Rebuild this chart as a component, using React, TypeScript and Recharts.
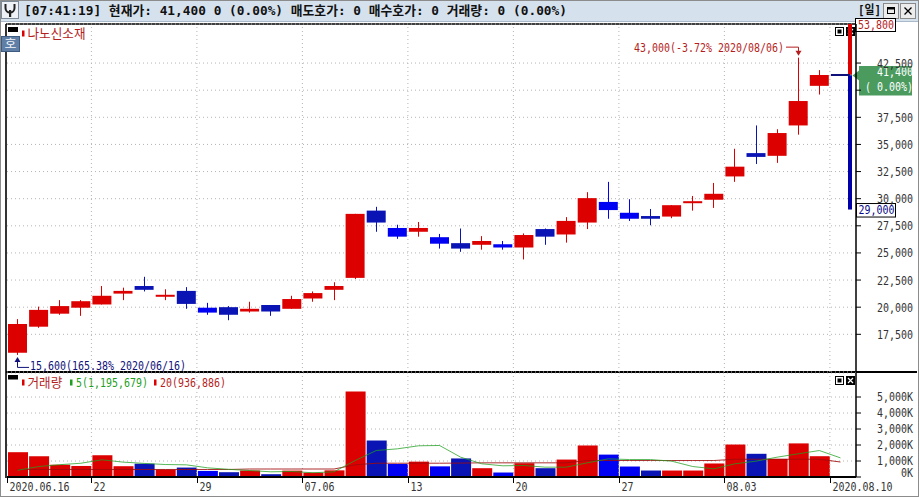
import React from 'react';
import { ComposedChart, Bar, Line, XAxis, YAxis, CartesianGrid, ReferenceLine, ReferenceArea, Cell } from 'recharts';

// ---------------- data ----------------
const stockName = '나노신소재';
const quoteTime = '07:41:19';
const currentPrice = 41400;
const upperLimit = 53800;
const lowerLimit = 29000;

const dates = [
  '2020-06-16', '2020-06-17', '2020-06-18', '2020-06-19', '2020-06-22', '2020-06-23', '2020-06-24', '2020-06-25',
  '2020-06-26', '2020-06-29', '2020-06-30', '2020-07-01', '2020-07-02', '2020-07-03', '2020-07-06', '2020-07-07',
  '2020-07-08', '2020-07-09', '2020-07-10', '2020-07-13', '2020-07-14', '2020-07-15', '2020-07-16', '2020-07-17',
  '2020-07-20', '2020-07-21', '2020-07-22', '2020-07-23', '2020-07-24', '2020-07-27', '2020-07-28', '2020-07-29',
  '2020-07-30', '2020-07-31', '2020-08-03', '2020-08-04', '2020-08-05', '2020-08-06', '2020-08-07', '2020-08-10',
];
const opens = [
  15800, 18200, 19400, 19950, 20250, 21250, 21950, 21000, 21500, 19950, 20000, 19600, 20200, 19850, 20800, 21600,
  22700, 28900, 27300, 26950, 26450, 25900, 25750, 25800, 25500, 27200, 26700, 27800, 29700, 28700, 28400, 28350,
  29650, 29900, 32050, 34200, 33950, 36750, 40400, 41400,
];
const highs = [
  18900, 20050, 20650, 20650, 21950, 21800, 22800, 21650, 21850, 20400, 20100, 20500, 20200, 21050, 21450, 22300,
  28600, 29250, 27600, 27850, 26750, 27250, 26550, 26100, 26800, 27250, 28300, 30600, 31550, 29950, 29050, 29400,
  30250, 31450, 34600, 36750, 36400, 43000, 41850, 41400,
];
const lows = [
  15600, 18100, 19300, 19200, 20250, 20650, 21450, 20650, 19850, 19300, 18800, 19500, 19200, 19850, 20500, 20650,
  22600, 26950, 26300, 26500, 25400, 25100, 25300, 25300, 24400, 25750, 25950, 27200, 28150, 27950, 27550, 28200,
  28900, 29150, 31550, 33200, 33300, 35900, 39600, 41400,
];
const closes = [
  18450, 19750, 20100, 20550, 21050, 21500, 21600, 21100, 20300, 19500, 19300, 19850, 19600, 20750, 21300, 21950,
  28600, 27800, 26500, 27300, 25850, 25400, 26100, 25500, 26650, 26500, 27950, 30050, 28950, 28150, 28150, 29400,
  29700, 30450, 32950, 33850, 36050, 39000, 41400, 41400,
];
const volumes = [
  1550000, 1300000, 770000, 690000, 1360000, 675000, 830000, 460000, 590000, 380000, 300000, 405000, 175000, 400000,
  270000, 415000, 5340000, 2280000, 815000, 960000, 665000, 1160000, 550000, 280000, 860000, 550000, 1090000,
  1970000, 1400000, 655000, 405000, 405000, 405000, 845000, 2030000, 1450000, 1130000, 2100000, 1300000, 0,
];
const ma5 = [
  420000, 655000, 770000, 860000, 1075000, 930000, 850000, 780000, 760000, 575000, 480000, 405000, 325000, 345000,
  265000, 325000, 1030000, 1655000, 1760000, 1950000, 1970000, 1240000, 825000, 700000, 720000, 615000, 615000,
  885000, 1135000, 1090000, 1090000, 990000, 655000, 510000, 825000, 990000, 1240000, 1450000, 1655000, 1195679,
];
const ma20 = [
  470000, 470000, 470000, 470000, 470000, 470000, 470000, 470000, 470000, 470000, 470000, 500000, 500000, 500000,
  500000, 500000, 760000, 862000, 862000, 862000, 862000, 870000, 885000, 885000, 885000, 885000, 885000, 1030000,
  1030000, 1030000, 1030000, 1030000, 1030000, 1030000, 1110000, 1110000, 1110000, 1110000, 1110000, 936886,
];
const priceTicks = [17500, 20000, 22500, 25000, 27500, 30000, 32500, 35000, 37500, 40000, 42500];
const volumeTicks = [0, 1000000, 2000000, 3000000, 4000000, 5000000];
const xTickDates = ['2020-06-16', '2020-06-22', '2020-06-29', '2020-07-06', '2020-07-13', '2020-07-20', '2020-07-27', '2020-08-03', '2020-08-10'];
const xTickLabels = ['2020.06.16', '22', '29', '07.06', '13', '20', '27', '08.03', '2020.08.10'];

// ---------------- layout / style ----------------
const W = 919;
const H = 497;
const PLOT_LEFT = 7;
const AXIS_W = 63;
const PAD_R = 5;
const PRICE_TOP = 24;
const PRICE_BOTTOM = 372;
const VOL_H = H - PRICE_BOTTOM - 1;
const BAND = (W - AXIS_W - PLOT_LEFT - PAD_R) / dates.length;
const PRICE_DOMAIN: [number, number] = [14025, 46100];
const VOL_DOMAIN: [number, number] = [0, 6500000];
const LABEL_X = 913;

const RED = '#dd0000';
const DARK_RED = '#b41e1e';
const BLUE_DARK = '#0a14b4';
const BLUE_BRIGHT = '#0000f2';
const NAVY = '#10107a';
const GREEN_BOX = '#4b9b5f';
const MA5_COLOR = '#1f9f1f';
const MA20_COLOR = '#a00a0a';
const GRID = '#b4b4b4';
const brightDown = new Set([9, 18, 20, 23, 28, 29]);
const FONT = "'DejaVu Sans Mono', 'Noto Sans CJK KR', monospace";
const MONO_ADV = 0.602;

// ---------------- derived ----------------
const fmt = (v: number) => v.toLocaleString('en-US');
const prevClose = closes[closes.length - 2];
const changePct = `${(((currentPrice - prevClose) / prevClose) * 100).toFixed(2)}%`;
const maxIdx = highs.indexOf(Math.max(...highs));
const minIdx = lows.indexOf(Math.min(...lows));
const pctFrom = (v: number) => `${((currentPrice / v - 1) * 100).toFixed(2)}%`;
const slashDate = (d: string) => d.replace(/-/g, '/');

const priceData = dates.map((date, i) => ({
  date, i, open: opens[i], high: highs[i], low: lows[i], close: closes[i], range: [lows[i], highs[i]],
}));
const volData = dates.map((date, i) => ({ date, i, volume: volumes[i], ma5: ma5[i], ma20: ma20[i] }));

const candleColor = (i: number) =>
  closes[i] > opens[i] ? RED : closes[i] < opens[i] ? (brightDown.has(i) ? BLUE_BRIGHT : BLUE_DARK) : NAVY;

// ---------------- text helper ----------------
const units = (s: string) => Array.from(s).reduce((a, c) => a + (c.charCodeAt(0) > 0x2e80 ? 2 : 1), 0);

// Narrow, tall text (like the bitmap terminal font): small font size scaled vertically.
function T(p: {
  x: number; y: number; text: string; fill?: string; anchor?: 'start' | 'end' | 'middle';
  unit?: number; size?: number; weight?: string; len?: number;
}) {
  const { x, y, text, fill = '#333', anchor = 'start', unit = 6, size = 13, weight = 'normal', len } = p;
  const L = len ?? units(text) * unit;
  const u = L / units(text);
  const f = Math.min(size, u / MONO_ADV);
  const sy = size / f;
  const x0 = anchor === 'end' ? x - L : anchor === 'middle' ? x - L / 2 : x;
  return (
    <text
      transform={`translate(${x0},${y}) scale(1,${sy})`}
      x={0}
      y={0}
      fill={fill}
      fontFamily={FONT}
      fontSize={f}
      fontWeight={weight}
      textAnchor="start"
      dominantBaseline="central"
      textLength={L}
      lengthAdjust="spacingAndGlyphs"
    >
      {text}
    </text>
  );
}

// ---------------- custom shapes ----------------
function Candle(props: any) {
  const { x, y, width, height, payload } = props;
  if (payload == null || x == null || y == null) return <g />;
  const { open, close, high, low, i } = payload;
  const top = Math.min(y, y + (height || 0));
  const bot = Math.max(y, y + (height || 0));
  const span = high - low;
  const yOf = (v: number) => (span === 0 ? top : top + ((high - v) / span) * (bot - top));
  const cx = Math.floor(x + width / 2);
  const color = candleColor(i);
  let bTop = Math.min(yOf(open), yOf(close));
  let bBot = Math.max(yOf(open), yOf(close));
  if (bBot - bTop < 2) {
    const m = (bTop + bBot) / 2;
    bTop = m - 1;
    bBot = m + 1;
  }
  const els: any[] = [];
  if (span > 0) els.push(<rect key="w" x={cx} y={top} width={1} height={bot - top} fill={color} />);
  els.push(<rect key="b" x={x} y={bTop} width={width} height={bBot - bTop} fill={color} />);
  if (i === maxIdx) {
    const hy = top;
    els.push(
      <g key="maxA">
        <path d={`M ${cx - 12} ${hy - 10.5} H ${cx + 0.5} V ${hy - 6}`} stroke={DARK_RED} fill="none" />
        <polygon points={`${cx - 2.5},${hy - 7} ${cx + 3.5},${hy - 7} ${cx + 0.5},${hy - 2}`} fill={DARK_RED} />
        <T x={cx - 14} y={hy - 10} anchor="end" fill={DARK_RED} text={`${fmt(highs[i])}(${pctFrom(highs[i])} ${slashDate(dates[i])})`} />
      </g>,
    );
  }
  if (i === minIdx) {
    const ly = bot;
    els.push(
      <g key="minA">
        <path d={`M ${cx + 0.5} ${ly + 6} V ${ly + 12.5} H ${cx + 12}`} stroke={NAVY} fill="none" />
        <polygon points={`${cx - 2.5},${ly + 7} ${cx + 3.5},${ly + 7} ${cx + 0.5},${ly + 2}`} fill={NAVY} />
        <T x={cx + 13} y={ly + 11} fill={NAVY} text={`${fmt(lows[i])}(${pctFrom(lows[i])} ${slashDate(dates[i])})`} />
      </g>,
    );
  }
  return <g>{els}</g>;
}

function UpperBand(props: any) {
  const { x, y, width, height } = props;
  const r = x + width;
  return (
    <g>
      <rect x={r - 3} y={y} width={4} height={height} fill={RED} />
      <rect x={r + 4.5} y={y - 5.5} width={40} height={13} fill="#fff" stroke="#000" />
      <T x={r + 7} y={y + 1} text={fmt(upperLimit)} fill={DARK_RED} size={12} />
    </g>
  );
}

function LowerBand(props: any) {
  const { x, y, width, height } = props;
  const r = x + width;
  const py = y;
  const pb = y + height;
  return (
    <g>
      <rect x={r - 3} y={py} width={4} height={pb - py} fill="#0000a8" />
      <rect x={r - 3} y={py - 0.5} width={4} height={1} fill="#8a8a8a" />
      <polygon points={`${r + 1.5},${py + 0.5} ${r + 8},${py - 4.5} ${r + 8},${py + 5.5}`} fill={GREEN_BOX} />
      <rect x={r + 8} y={py - 9} width={53} height={29.5} fill={GREEN_BOX} />
      <T x={LABEL_X} y={py - 3} text={fmt(currentPrice)} fill="#fff" anchor="end" size={12} />
      <T x={LABEL_X} y={py + 12.3} text={`( ${changePct})`} fill="#fff" anchor="end" size={12} />
      <rect x={r + 5.5} y={pb - 6} width={39} height={13.5} fill="#fff" stroke="#000" />
      <T x={r + 7.5} y={pb + 1} text={fmt(lowerLimit)} fill="#0a0a8c" size={12} />
    </g>
  );
}

function PriceTick(props: any) {
  const { y, payload } = props;
  const v = payload.value;
  if (v > currentPrice - 1900 && v < currentPrice + 800) return <g />;
  return <T x={LABEL_X} y={y} text={fmt(v)} anchor="end" />;
}

function VolTick(props: any) {
  const { y, payload } = props;
  const v = payload.value;
  return <T x={LABEL_X} y={v === 0 ? y - 4.5 : y} text={`${fmt(v / 1000)}K`} anchor="end" />;
}

function DateTick(props: any) {
  const { x, y, payload } = props;
  const k = xTickDates.indexOf(payload.value);
  if (k < 0) return <g />;
  const lx = Math.round(x - BAND / 2) + 0.5;
  return (
    <g>
      <line x1={lx} x2={lx} y1={y} y2={y + 6} stroke="#000" />
      <T x={lx + 2} y={y + 10} text={xTickLabels[k]} />
    </g>
  );
}

function PaneIcons({ y }: { y: number }) {
  return (
    <g>
      <rect x={835.5} y={y + 0.5} width={8} height={8} fill="#fff" stroke="#000" />
      <rect x={837.5} y={y + 2.5} width={4} height={4} fill="#000" />
      <rect x={846} y={y} width={9} height={9} fill="#000" />
      <path d={`M ${848} ${y + 2} L ${853} ${y + 7} M ${853} ${y + 2} L ${848} ${y + 7}`} stroke="#fff" strokeWidth={1.2} />
    </g>
  );
}

function Decor() {
  const title = `[${quoteTime}] 현재가: ${fmt(currentPrice)} ${fmt(currentPrice - prevClose)} (${changePct}) 매도호가: 0 매수호가: 0 거래량: ${fmt(volumes[volumes.length - 1])} (0.00%)`;
  return (
    <svg width={W} height={H} style={{ position: 'absolute', left: 0, top: 0 }}>
      <rect x={0} y={0} width={W} height={H} fill="#fff" />
      <rect x={0} y={0} width={W} height={21} fill="#d5e1ed" />
      <line x1={0} x2={W} y1={21.5} y2={21.5} stroke="#a9b9c9" />
      <rect x={0.5} y={0.5} width={W - 1} height={H - 1} fill="none" stroke="#8c8c8c" />
      {/* wrench */}
      <rect x={1.5} y={1.5} width={17} height={17} fill="#eef2f6" stroke="#7d8a97" />
      <path d="M5.5 4 v4 a4.5 4.5 0 0 0 9 0 v-4" stroke="#222" strokeWidth={2} fill="none" />
      <rect x={9} y={10} width={2.2} height={7} fill="#222" />
      <T x={24} y={11} text={title} fill="#111" weight="bold" size={13} len={543} />
      <T x={858} y={10} text="[일]" fill="#111" weight="bold" size={12} len={23} />
      <rect x={883.5} y={3.5} width={15} height={15} fill="#ececec" stroke="#8a8a8a" />
      <rect x={887.5} y={7.5} width={7} height={6} fill="none" stroke="#000" />
      <rect x={887.5} y={7.5} width={7} height={2} fill="#000" />
      <rect x={900.5} y={3.5} width={15} height={15} fill="#ececec" stroke="#8a8a8a" />
      <path d="M904.5 7.5 L911.5 14.5 M911.5 7.5 L904.5 14.5" stroke="#000" strokeWidth={1.3} />
      {/* frame */}
      <line x1={6} x2={6} y1={PRICE_TOP} y2={H - 19} stroke="#000" strokeWidth={1.6} />
      <line x1={6} x2={856} y1={PRICE_TOP} y2={PRICE_TOP} stroke="#000" strokeWidth={1.6} />
      <line x1={6} x2={917} y1={PRICE_BOTTOM} y2={PRICE_BOTTOM} stroke="#000" strokeWidth={1.8} />
      {/* price legend */}
      <rect x={8} y={27} width={10} height={5} fill="#000" />
      <rect x={22} y={30.5} width={2.5} height={6} fill={RED} />
      <T x={27.5} y={33.5} text={stockName} fill={DARK_RED} unit={5.8} />
      <rect x={1.5} y={36.5} width={18} height={15} fill="#5f7fa6" stroke="#3d5a80" />
      <T x={10.5} y={44} text="호" fill="#f4f6fa" anchor="middle" size={12} />
      <PaneIcons y={27} />
      {/* volume legend */}
      <rect x={8} y={375} width={10} height={4.5} fill="#000" />
      <rect x={22} y={379.5} width={2.5} height={6} fill={RED} />
      <T x={27.5} y={382.7} text="거래량" fill={DARK_RED} unit={5.8} />
      <rect x={70} y={379.5} width={2.5} height={6} fill={MA5_COLOR} />
      <T x={76} y={382.7} text={`5(${fmt(ma5[ma5.length - 1])})`} fill={MA5_COLOR} />
      <rect x={154} y={379.5} width={2.5} height={6} fill={RED} />
      <T x={160} y={382.7} text={`20(${fmt(ma20[ma20.length - 1])})`} fill={DARK_RED} />
      <PaneIcons y={376} />
    </svg>
  );
}

export default function App() {
  const vLines = xTickDates.slice(1);
  return (
    <div style={{ position: 'absolute', left: 0, top: 0, width: W, height: H, overflow: 'hidden', background: '#fff' }}>
      <Decor />
      <div style={{ position: 'absolute', left: 0, top: 0 }}>
        <ComposedChart
          width={W}
          height={PRICE_BOTTOM + 1}
          data={priceData}
          margin={{ top: PRICE_TOP, right: 0, bottom: 1, left: PLOT_LEFT }}
        >
          <CartesianGrid vertical={false} stroke={GRID} strokeDasharray="1 3" />
          <XAxis dataKey="date" hide padding={{ left: 0, right: PAD_R }} />
          <YAxis
            orientation="right"
            width={AXIS_W}
            type="number"
            domain={PRICE_DOMAIN}
            ticks={priceTicks}
            interval={0}
            tickSize={5}
            axisLine={{ stroke: '#000', strokeWidth: 1.5 }}
            tickLine={{ stroke: '#000' }}
            tick={PriceTick}
          />
          {vLines.map((d) => (
            <ReferenceLine key={d} x={d} position="start" stroke={GRID} strokeDasharray="1 3" />
          ))}
          <Bar dataKey="range" barSize={19} shape={Candle} isAnimationActive={false} />
          <ReferenceArea y1={currentPrice} y2={PRICE_DOMAIN[1]} ifOverflow="visible" shape={UpperBand} />
          <ReferenceArea y1={lowerLimit} y2={currentPrice} ifOverflow="visible" shape={LowerBand} />
        </ComposedChart>
      </div>
      <div style={{ position: 'absolute', left: 0, top: PRICE_BOTTOM + 1 }}>
        <ComposedChart width={W} height={VOL_H} data={volData} margin={{ top: 0, right: 0, bottom: 0, left: PLOT_LEFT }}>
          <CartesianGrid vertical={false} stroke={GRID} strokeDasharray="1 3" />
          <XAxis
            dataKey="date"
            ticks={xTickDates}
            interval={0}
            tick={DateTick}
            tickLine={false}
            tickSize={0}
            tickMargin={0}
            height={20}
            axisLine={{ stroke: '#000', strokeWidth: 2 }}
            padding={{ left: 0, right: PAD_R }}
          />
          <YAxis
            orientation="right"
            width={AXIS_W}
            type="number"
            domain={VOL_DOMAIN}
            ticks={volumeTicks}
            interval={0}
            tickSize={5}
            axisLine={{ stroke: '#000', strokeWidth: 1.5 }}
            tickLine={{ stroke: '#000' }}
            tick={VolTick}
          />
          {vLines.map((d) => (
            <ReferenceLine key={d} x={d} position="start" stroke={GRID} strokeDasharray="1 3" />
          ))}
          <Bar dataKey="volume" barSize={20} isAnimationActive={false}>
            {volData.map((d) => (
              <Cell key={d.date} fill={candleColor(d.i)} />
            ))}
          </Bar>
          <Line dataKey="ma20" type="linear" stroke={MA20_COLOR} strokeWidth={1} strokeOpacity={0.85} dot={false} isAnimationActive={false} />
          <Line dataKey="ma5" type="linear" stroke={MA5_COLOR} strokeWidth={1} strokeOpacity={0.75} dot={false} isAnimationActive={false} />
        </ComposedChart>
      </div>
    </div>
  );
}
